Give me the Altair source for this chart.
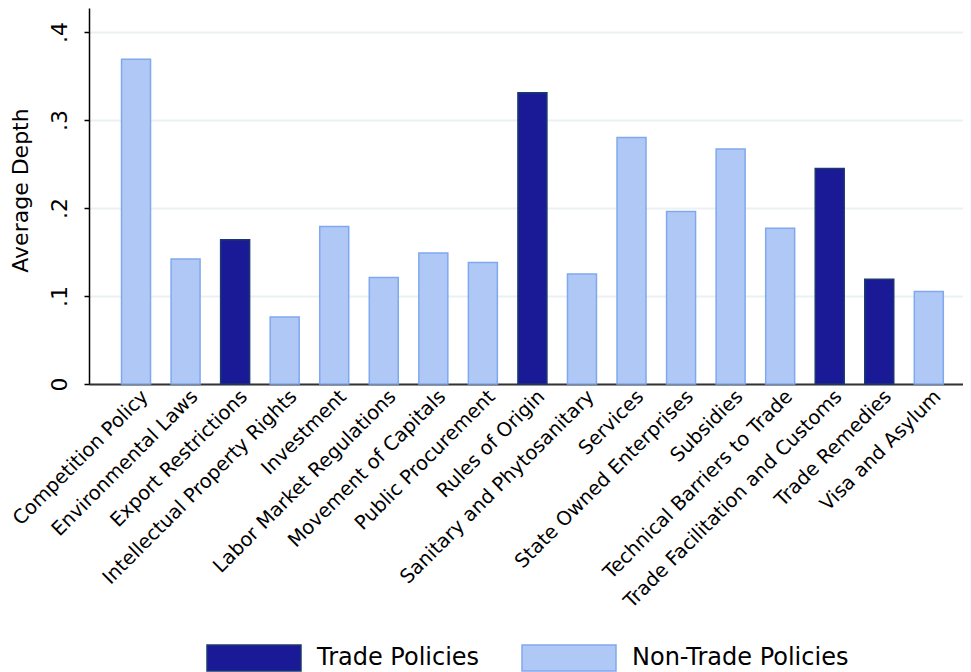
import altair as alt
import pandas as pd

categories = [
    "Competition Policy", "Environmental Laws", "Export Restrictions",
    "Intellectual Property Rights", "Investment", "Labor Market Regulations",
    "Movement of Capitals", "Public Procurement", "Rules of Origin",
    "Sanitary and Phytosanitary", "Services", "State Owned Enterprises",
    "Subsidies", "Technical Barriers to Trade", "Trade Facilitation and Customs",
    "Trade Remedies", "Visa and Asylum",
]
depth = [0.369, 0.142, 0.164, 0.076, 0.179, 0.121, 0.149, 0.138, 0.331,
         0.125, 0.280, 0.196, 0.267, 0.177, 0.245, 0.119, 0.105]
policy_type = [
    "Non-Trade Policies", "Non-Trade Policies", "Trade Policies",
    "Non-Trade Policies", "Non-Trade Policies", "Non-Trade Policies",
    "Non-Trade Policies", "Non-Trade Policies", "Trade Policies",
    "Non-Trade Policies", "Non-Trade Policies", "Non-Trade Policies",
    "Non-Trade Policies", "Non-Trade Policies", "Trade Policies",
    "Trade Policies", "Non-Trade Policies",
]
y_ticks = [0, 0.1, 0.2, 0.3, 0.4]

types = ["Trade Policies", "Non-Trade Policies"]
fills = ["#1a1a96", "#b0c8f6"]
strokes = ["#1c3870", "#80a8ee"]

df = pd.DataFrame({"Provision": categories, "Depth": depth, "Type": policy_type})

FONT = "DejaVu Sans"

legend = alt.Legend(
    title=None, orient="none", legendX=151, legendY=636, direction="horizontal",
    symbolType="M-3.615,-1L3.615,-1L3.615,1L-3.615,1Z", symbolSize=676,
    symbolStrokeWidth=1.5, symbolOpacity=1, labelFontSize=24, labelFont=FONT,
    labelColor="black", labelLimit=400, labelOffset=49, columnPadding=39,
    padding=0,
)

chart = alt.Chart(df).mark_bar(strokeWidth=1.5, opacity=1).encode(
    x=alt.X(
        "Provision:N", sort=categories,
        scale=alt.Scale(paddingInner=0.415, paddingOuter=0.527, align=0.623),
        axis=alt.Axis(
            title=None, labelAngle=-45, labelAlign="right", labelBaseline="middle",
            labelPadding=9, labelOffset=9, ticks=False, labelFontSize=19.5,
            labelFont=FONT, labelColor="black", labelLimit=500,
            domainColor="#333333", domainWidth=2, grid=False,
        ),
    ),
    y=alt.Y(
        "Depth:Q",
        scale=alt.Scale(domain=[0, 0.4273], nice=False, zero=True),
        axis=alt.Axis(
            values=y_ticks,
            labelExpr="datum.value == 0 ? '0' : replace(format(datum.value, '.1f'), '0.', '.')",
            title="Average Depth", titleFont=FONT, titleFontSize=22,
            titleFontWeight="normal", titleColor="black", titleAngle=270,
            titleAlign="center", titleBaseline="alphabetic", titleX=-62, titleY=182,
            labelAngle=270, labelAlign="center", labelBaseline="alphabetic",
            labelPadding=18, tickSize=5, tickColor="black", tickWidth=1.5,
            labelFont=FONT, labelFontSize=22, labelColor="black",
            domainColor="black", domainWidth=1.5,
            grid=True, gridColor="#eaf1f2", gridWidth=2,
        ),
    ),
    fill=alt.Fill("Type:N", scale=alt.Scale(domain=types, range=fills), legend=legend),
    stroke=alt.Stroke("Type:N", scale=alt.Scale(domain=types, range=strokes), legend=legend),
).properties(
    width=874, height=376,
    autosize=alt.AutoSizeParams(type="none"),
    padding={"left": 81, "top": 0, "right": 0, "bottom": 288},
).configure_view(stroke="transparent")

chart.save("out.html", embed_options={"renderer": "svg", "actions": False})
